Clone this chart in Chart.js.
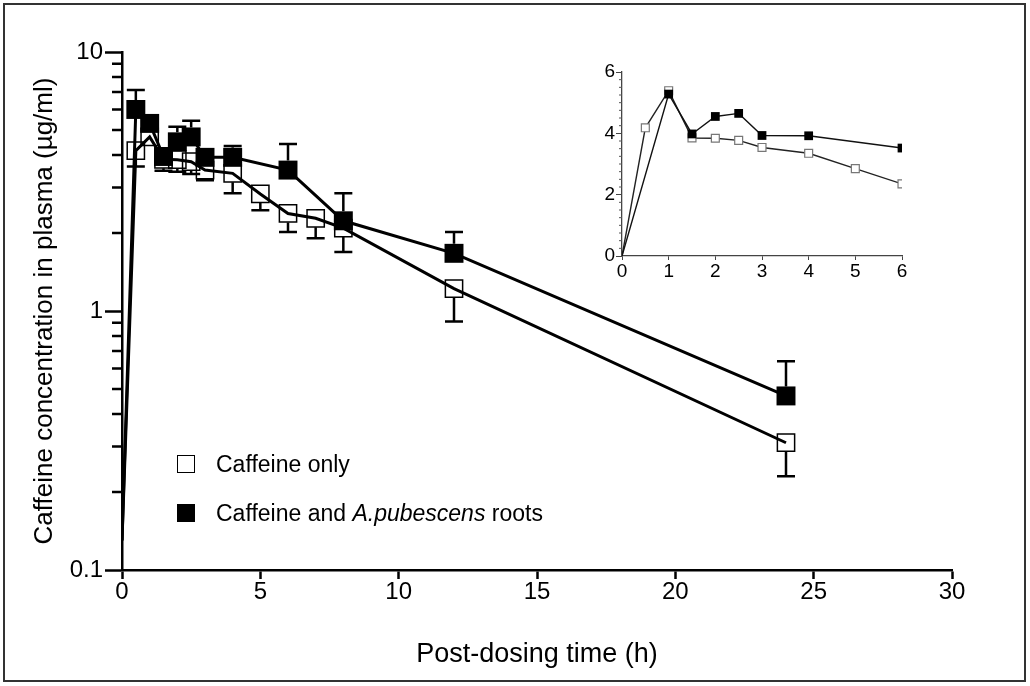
<!DOCTYPE html>
<html>
<head>
<meta charset="utf-8">
<script src="https://cdn.jsdelivr.net/npm/chart.js@4.4.0/dist/chart.umd.min.js"></script>
<style>
  html, body { margin: 0; padding: 0; background: #fff; }
  #wrap { position: relative; width: 1030px; height: 686px; overflow: hidden; font-family: "Liberation Sans", Arial, sans-serif; }
  #frame { position: absolute; left: 3px; top: 3px; width: 1023px; height: 679px; box-sizing: border-box; border: 2px solid #333; pointer-events: none; }
  #main { position: absolute; left: 0; top: 0; }
  #inset { position: absolute; left: 570px; top: 50px; }
  .key { position: absolute; left: 177px; height: 18px; font-size: 23px; line-height: 18px; color: #000; white-space: nowrap; }
  .key .box { position: absolute; left: 0; top: 0; width: 18px; height: 18px; box-sizing: border-box; }
  .key .open { border: 1.5px solid #000; background: #fff; }
  .key .filled { background: #000; }
  .key span.txt { position: absolute; left: 39px; top: 0; }
</style>
</head>
<body>
<div id="wrap">
  <canvas id="main" width="1030" height="686"></canvas>
  <canvas id="inset" width="350" height="235"></canvas>
  <div class="key" style="top:455px"><div class="box open"></div><span class="txt">Caffeine only</span></div>
  <div class="key" style="top:504px"><div class="box filled"></div><span class="txt">Caffeine and <i>A.pubescens</i> roots</span></div>
  <div id="frame"></div>
</div>
<script>
Chart.defaults.font.family = '"Liberation Sans", Arial, sans-serif';
Chart.defaults.color = '#000';

// sampling times (h) and mean plasma levels (ug/ml)
const timesOnly = [0, 0.5, 1, 1.5, 2, 2.5, 3, 4, 5, 6, 7, 8, 12, 24];
const caffeineOnly = [0.13, 4.16, 4.7, 3.85, 3.84, 3.77, 3.5, 3.4, 2.83, 2.38, 2.28, 2.09, 1.22, 0.31];
const caffeineOnlySd = [0, 0.55, 0.3, 0.37, 0.39, 0.39, 0.3, 0.55, 0.38, 0.36, 0.37, 0.4, 0.31, 0.08];

const timesCombo = [0, 0.5, 1, 1.5, 2, 2.5, 3, 4, 6, 8, 12, 24];
const caffeineCombo = [0.13, 6.0, 5.3, 3.95, 4.5, 4.7, 3.92, 3.92, 3.5, 2.23, 1.67, 0.47];
const caffeineComboSd = [0, 1.13, 0.3, 0.3, 0.65, 0.73, 0.33, 0.42, 0.91, 0.62, 0.35, 0.17];

// first 6 h on a linear scale
const insetTimesOnly = [0, 0.5, 1, 1.5, 2, 2.5, 3, 4, 5, 6];
const insetOnly = [0, 4.18, 5.39, 3.85, 3.84, 3.77, 3.54, 3.35, 2.85, 2.35];
const insetTimesCombo = [0, 1, 1.5, 2, 2.5, 3, 4, 6];
const insetCombo = [0, 5.28, 3.98, 4.55, 4.65, 3.93, 3.92, 3.52];

const yMajor = [0.1, 1, 10];
const yMinor = [];
[0.1, 1].forEach(d => { for (let k = 2; k <= 9; k++) yMinor.push(+(k * d).toFixed(2)); });
const insetMinor = [];
for (let v = 0.25; v < 6; v += 0.25) if (v % 2 !== 0) insetMinor.push(v);

const pts = (xs, ys) => xs.map((x, i) => ({ x, y: ys[i] }));

// SD whiskers: one-sided, starting at the marker edge
const errorBars = {
  id: 'errorBars',
  afterDatasetsDraw(chart) {
    const ctx = chart.ctx;
    const ys = chart.scales.y;
    chart.data.datasets.forEach((ds, i) => {
      if (!ds.sd) return;
      const meta = chart.getDatasetMeta(i);
      ctx.save();
      ctx.strokeStyle = '#000';
      ctx.lineWidth = 2.5;
      ctx.lineCap = 'butt';
      meta.data.forEach((pt, j) => {
        const sd = ds.sd[j];
        if (!sd) return;
        const end = ys.getPixelForValue(ds.data[j].y + ds.sdDir * sd);
        const edge = pt.y - ds.sdDir * ds.half;
        if (Math.abs(end - pt.y) <= ds.half) return;
        ctx.beginPath();
        ctx.moveTo(pt.x, edge);
        ctx.lineTo(pt.x, end);
        ctx.moveTo(pt.x - 9, end);
        ctx.lineTo(pt.x + 9, end);
        ctx.stroke();
      });
      ctx.restore();
    });
  }
};

const minorTicks = {
  id: 'minorTicks',
  afterDraw(chart, args, opts) {
    const ctx = chart.ctx;
    (opts.list || []).forEach(m => {
      const s = chart.scales[m.axis];
      ctx.save();
      ctx.strokeStyle = m.color;
      ctx.lineWidth = m.width;
      ctx.beginPath();
      m.values.forEach(v => {
        const p = s.getPixelForValue(v);
        ctx.moveTo(s.right, p);
        ctx.lineTo(s.right - m.length, p);
      });
      ctx.stroke();
      ctx.restore();
    });
  }
};

new Chart(document.getElementById('main'), {
  type: 'scatter',
  data: {
    datasets: [
      {
        label: 'Caffeine and A.pubescens roots',
        data: pts(timesCombo, caffeineCombo),
        showLine: true,
        borderColor: '#000',
        borderWidth: 3,
        pointStyle: 'rect',
        pointRadius: c => c.dataIndex === 0 ? 0 : 13.4,
        pointBackgroundColor: '#000',
        pointBorderColor: '#000',
        pointBorderWidth: 0,
        order: 0,
        sd: caffeineComboSd,
        sdDir: 1,
        half: 9.5
      },
      {
        label: 'Caffeine only',
        data: pts(timesOnly, caffeineOnly),
        showLine: true,
        borderColor: '#000',
        borderWidth: 3,
        pointStyle: 'rect',
        pointRadius: c => c.dataIndex === 0 ? 0 : 12.2,
        pointBackgroundColor: 'rgba(0,0,0,0)',
        pointBorderColor: '#000',
        pointBorderWidth: 1.5,
        order: 1,
        sd: caffeineOnlySd,
        sdDir: -1,
        half: 9
      }
    ]
  },
  options: {
    responsive: false,
    animation: false,
    devicePixelRatio: 1,
    layout: { padding: { left: 29, right: 78, top: 52, bottom: 15 } },
    plugins: {
      legend: { display: false },
      tooltip: { enabled: false },
      minorTicks: { list: [{ axis: 'y', values: yMinor, length: 10, width: 2.5, color: '#000' }] }
    },
    scales: {
      x: {
        type: 'linear',
        min: 0,
        max: 30,
        afterFit: s => { s.height = 101; },
        ticks: { stepSize: 5, font: { size: 24 }, padding: -1, maxRotation: 0 },
        grid: { drawOnChartArea: false, tickLength: 9, tickWidth: 2.5, tickColor: '#000' },
        border: { color: '#000', width: 2.5 },
        title: { display: true, text: 'Post-dosing time (h)', font: { size: 27 }, padding: 0 }
      },
      y: {
        type: 'logarithmic',
        min: 0.1,
        max: 10,
        afterFit: s => { s.width = 93; },
        afterBuildTicks: s => { s.ticks = yMajor.map(v => ({ value: v })); },
        ticks: { callback: v => String(v), font: { size: 24 }, padding: 2 },
        grid: { drawOnChartArea: false, tickLength: 17, tickWidth: 2.5, tickColor: '#000' },
        border: { color: '#000', width: 2.5 },
        title: { display: true, text: 'Caffeine concentration in plasma (\u00b5g/ml)', font: { size: 26 }, padding: 0 }
      }
    }
  },
  plugins: [errorBars, minorTicks]
});

new Chart(document.getElementById('inset'), {
  type: 'scatter',
  data: {
    datasets: [
      {
        data: pts(insetTimesCombo, insetCombo),
        showLine: true,
        borderColor: '#111',
        borderWidth: 1.4,
        pointStyle: 'rect',
        pointRadius: c => c.dataIndex === 0 ? 0 : 6.2,
        pointBackgroundColor: '#000',
        pointBorderWidth: 0,
        order: 0
      },
      {
        data: pts(insetTimesOnly, insetOnly),
        showLine: true,
        borderColor: '#222',
        borderWidth: 1.4,
        pointStyle: 'rect',
        pointRadius: c => c.dataIndex === 0 ? 0 : 5.6,
        pointBackgroundColor: '#fff',
        pointBorderColor: '#777',
        pointBorderWidth: 1.2,
        order: 1
      }
    ]
  },
  options: {
    responsive: false,
    animation: false,
    devicePixelRatio: 1,
    layout: { padding: { left: 0, right: 18, top: 22, bottom: 0 } },
    plugins: {
      legend: { display: false },
      tooltip: { enabled: false },
      minorTicks: { list: [{ axis: 'y', values: insetMinor, length: 3, width: 1, color: '#555' }] }
    },
    scales: {
      x: {
        type: 'linear',
        min: 0,
        max: 6,
        afterFit: s => { s.height = 29; },
        ticks: { stepSize: 1, font: { size: 19 }, padding: 0, maxRotation: 0 },
        grid: { drawOnChartArea: false, tickLength: 4, tickWidth: 1, tickColor: '#444' },
        border: { color: '#444', width: 1.3 }
      },
      y: {
        type: 'linear',
        min: 0,
        max: 6,
        afterFit: s => { s.width = 52; },
        ticks: { stepSize: 2, font: { size: 19 }, padding: 1 },
        grid: { drawOnChartArea: false, tickLength: 6, tickWidth: 1, tickColor: '#444' },
        border: { color: '#444', width: 1.3 }
      }
    }
  },
  plugins: [minorTicks]
});
</script>
</body>
</html>
